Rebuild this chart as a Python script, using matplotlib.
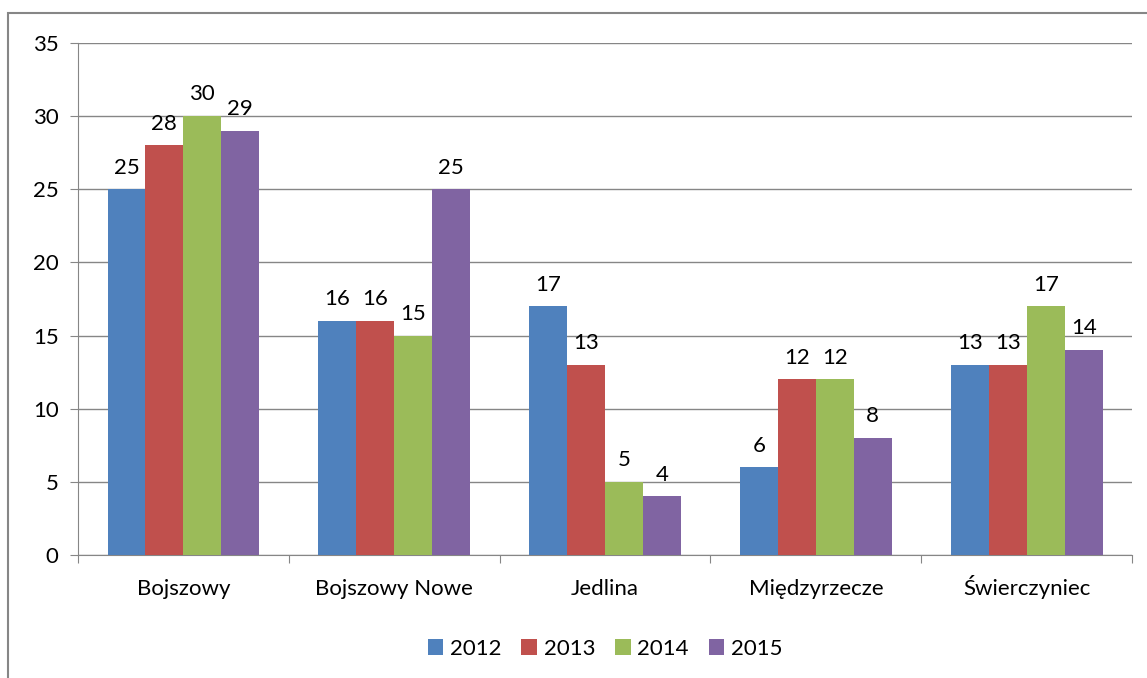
import numpy as np
import matplotlib.pyplot as plt
from matplotlib.patches import Rectangle

plt.rcParams['font.family'] = ['Lato', 'DejaVu Sans']

# data
categories = ['Bojszowy', 'Bojszowy Nowe', 'Jedlina', 'Międzyrzecze', 'Świerczyniec']
years = ['2012', '2013', '2014', '2015']
v2012 = [25, 16, 17, 6, 13]
v2013 = [28, 16, 13, 12, 13]
v2014 = [30, 15, 5, 12, 17]
v2015 = [29, 25, 4, 8, 14]
series = [v2012, v2013, v2014, v2015]
colors = ['#4F81BD', '#C0504D', '#9BBB59', '#8064A2']
fs = 16

fig = plt.figure(figsize=(11.47, 6.78), dpi=100)
ax = fig.add_axes([0.068, 0.1814, 0.919, 0.7552])

# outer chart border
fig.patches.append(Rectangle((8 / 1147, -0.05), 1.2, 1 - 13 / 678 + 0.05,
                             transform=fig.transFigure, fill=False,
                             edgecolor='#868686', linewidth=1.5))

positions = np.arange(len(categories))
width = 0.18
for i, (vals, col, yr) in enumerate(zip(series, colors, years)):
    x = positions + (i - 1.5) * width
    ax.bar(x, vals, width, color=col, label=yr, zorder=3)
    for xi, v in zip(x, vals):
        ax.text(xi, v + 0.8, str(v), ha='center', va='bottom', fontsize=fs)

ax.set_xlim(-0.5, len(categories) - 0.5)
ax.set_ylim(0, 35)
ax.set_yticks(range(0, 36, 5))
ax.grid(axis='y', color='#868686', linewidth=1, zorder=0)
ax.set_xticks(np.arange(-0.5, len(categories), 1))
ax.set_xticklabels([])
ax.set_xticks(positions, minor=True)
ax.set_xticklabels(categories, minor=True, fontsize=fs, va='baseline')
ax.tick_params(axis='x', which='minor', length=0, pad=29)
ax.tick_params(axis='x', which='major', length=6, color='#868686', direction='out')
ax.tick_params(axis='y', length=6, color='#868686', labelsize=fs, pad=8)
for s in ['top', 'right']:
    ax.spines[s].set_visible(False)
for s in ['left', 'bottom']:
    ax.spines[s].set_color('#868686')

ax.legend(loc='upper center', bbox_to_anchor=(0.5, -0.125), ncol=4, frameon=False,
          fontsize=fs, handlelength=0.7, handleheight=0.7, handletextpad=0.3,
          columnspacing=0.9)

fig.savefig('out.png', dpi=100)
